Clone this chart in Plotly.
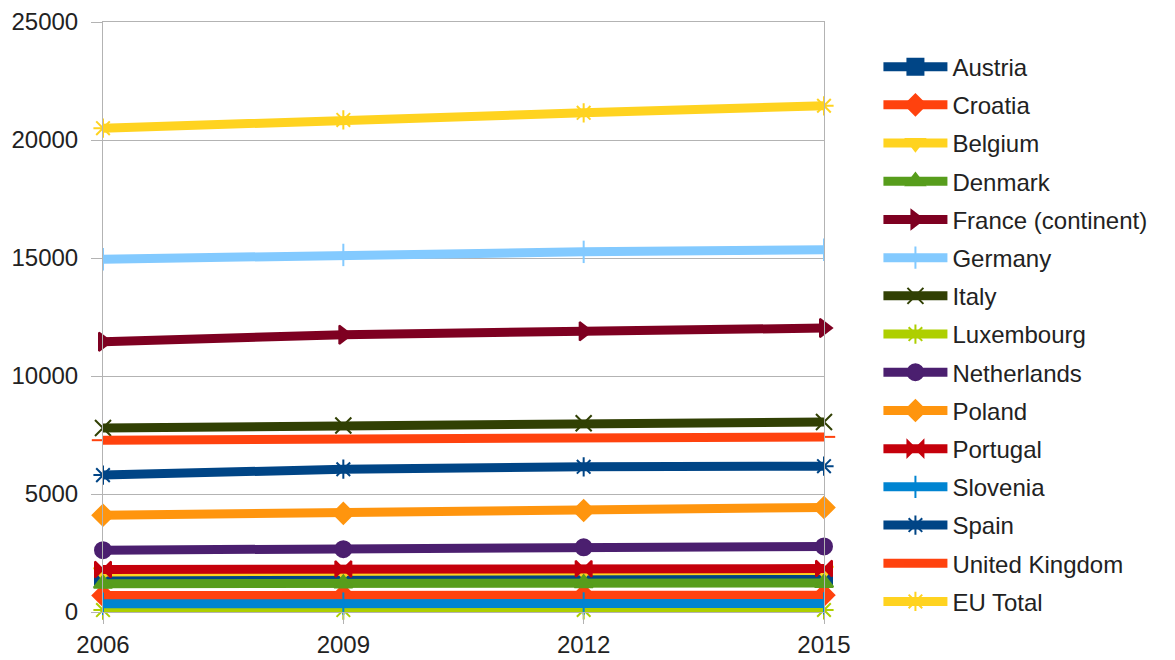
import plotly.graph_objects as go

years = [2006, 2009, 2012, 2015]
countries = ["Austria", "Croatia", "Belgium", "Denmark", "France (continent)", "Germany",
             "Italy", "Luxembourg", "Netherlands", "Poland", "Portugal", "Slovenia",
             "Spain", "United Kingdom", "EU Total"]

austria = [1500, 1510, 1520, 1530]
croatia = [700, 705, 710, 715]
belgium = [1700, 1720, 1740, 1760]
denmark = [1200, 1210, 1220, 1230]
france = [11450, 11750, 11900, 12030]
germany = [14950, 15130, 15260, 15350]
italy = [7800, 7900, 8000, 8050]
luxembourg = [80, 82, 84, 86]
netherlands = [2620, 2660, 2740, 2780]
poland = [4100, 4180, 4300, 4430]
portugal = [1800, 1820, 1830, 1840]
slovenia = [350, 355, 360, 365]
spain = [5800, 6050, 6150, 6180]
uk = [7280, 7330, 7380, 7420]
eu_total = [20500, 20850, 21150, 21450]

values = [austria, croatia, belgium, denmark, france, germany, italy, luxembourg,
          netherlands, poland, portugal, slovenia, spain, uk, eu_total]

colors = ["#004586", "#ff420e", "#ffd320", "#579d1c", "#7e0021", "#83caff",
          "#314004", "#aecf00", "#4b1f6f", "#ff950e", "#c5000b", "#0084d1",
          "#004586", "#ff420e", "#ffd320"]
symbols = ["square", "diamond", "triangle-down", "triangle-up", "triangle-right",
           "line-ns", "x-thin", "asterisk", "circle", "diamond", "bowtie",
           "line-ns", "asterisk", "line-ew", "asterisk"]

y_ticks = [0, 5000, 10000, 15000, 20000, 25000]

fig = go.Figure()
for name, vals, col, sym in zip(countries, values, colors, symbols):
    fig.add_trace(go.Scatter(
        x=years, y=vals, name=name, mode="lines+markers",
        line=dict(color=col, width=9),
        marker=dict(symbol=sym, size=16, color=col,
                    line=dict(color=col, width=2)),
        cliponaxis=False, legendgroup=name,
    ))

fig.update_layout(
    width=1175, height=660,
    margin=dict(l=103, r=351, t=22, b=48),
    paper_bgcolor="white", plot_bgcolor="white",
    font=dict(family="Liberation Sans, Arial, sans-serif", size=24, color="#222222"),
    showlegend=True,
    legend=dict(xref="container", yref="container", x=0.7476, y=0.9325,
                xanchor="left", yanchor="top", itemwidth=64, maxheight=1,
                font=dict(size=24), tracegroupgap=4, bgcolor="rgba(0,0,0,0)"),
    xaxis=dict(range=[2006, 2015], tickvals=years, ticktext=[str(y) for y in years],
               showgrid=False, showline=True, linecolor="#b3b3b3", mirror=True,
               ticks="outside", ticklen=11, tickcolor="#b3b3b3", zeroline=False,
               automargin=False),
    yaxis=dict(range=[0, 25000], tickvals=y_ticks, ticktext=[str(v) for v in y_ticks],
               showgrid=True, gridcolor="#b3b3b3", gridwidth=1,
               showline=True, linecolor="#b3b3b3", mirror=True,
               ticks="outside", ticklen=11, tickcolor="#b3b3b3", zeroline=False,
               ticklabelstandoff=8, automargin=False),
)

fig.write_html("out.html")
